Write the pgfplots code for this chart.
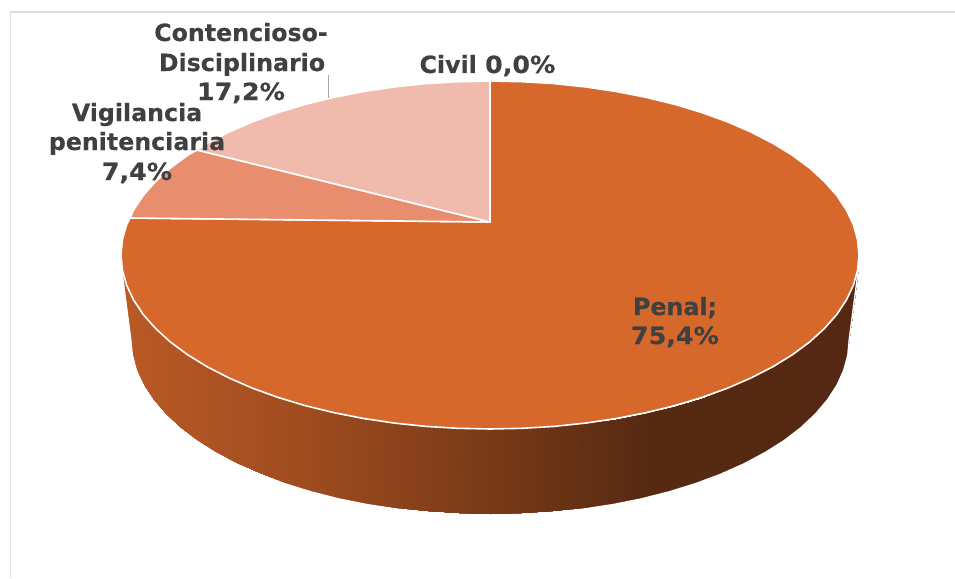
\documentclass[border=0pt]{standalone}
\usepackage{fontspec}
\setmainfont{DejaVu Sans}
\usepackage{pgfplots}
\pgfplotsset{compat=1.18}
\definecolor{penal}{RGB}{214,104,44}
\definecolor{vigil}{RGB}{233,141,111}
\definecolor{conten}{RGB}{240,186,173}
\definecolor{txt}{RGB}{64,64,64}
\definecolor{frameg}{RGB}{222,222,222}
\pgfplotsset{colormap={wall}{rgb255(0pt)=(186,90,38) rgb255(179pt)=(160,76,31) rgb255(369pt)=(120,58,24) rgb255(529pt)=(86,41,18) rgb255(738pt)=(84,40,18)}}
\newcommand{\lbl}[2]{\node[anchor=base,text=txt,inner sep=0pt,font=\fontsize{23.7}{29}\selectfont\bfseries\addfontfeature{FakeBold=0.3}] at (axis cs:#1) {#2};}
\newcommand{\widen}[1]{\scalebox{1.07}[1]{#1}}
\begin{document}
\begin{tikzpicture}
\useasboundingbox (0,0) rectangle (955pt,578pt);
\begin{axis}[
  scale only axis, width=955pt, height=578pt,
  xmin=0, xmax=955, ymin=0, ymax=578, y dir=reverse,
  hide axis, clip=true,
  colormap name=wall, point meta min=121, point meta max=859
]
% side wall of the pie
\addplot[surf, shader=interp, mesh/rows=2, mesh/cols=37, point meta=x] table[x=x,y=y] {
x y
859 255
857.6 270.2
853.4 285.2
846.4 300
836.8 314.5
824.4 328.5
809.6 342
792.3 354.8
772.7 366.8
750.9 378
727.2 388.3
701.7 397.5
674.5 405.7
645.9 412.7
616.2 418.5
585.5 423.1
554.1 426.4
522.2 428.3
490 429
457.8 428.3
425.9 426.4
394.5 423.1
363.8 418.5
334.1 412.7
305.5 405.7
278.3 397.5
252.8 388.3
229.1 378
207.3 366.8
187.7 354.8
170.4 342
155.6 328.5
143.2 314.5
133.6 300
126.6 285.2
122.4 270.2
121 255
848 340
846.6 355.2
842.6 370.2
835.8 385
826.4 399.5
814.5 413.5
800 427
783.3 439.8
764.2 451.8
743.1 463
720.1 473.3
695.3 482.5
669 490.7
641.3 497.7
612.4 503.5
582.7 508.1
552.1 511.4
521.2 513.3
490 514
458.8 513.3
427.9 511.4
397.3 508.1
367.6 503.5
338.7 497.7
311 490.7
284.7 482.5
259.9 473.3
236.9 463
215.8 451.8
196.7 439.8
180 427
165.5 413.5
153.6 399.5
144.2 385
137.4 370.2
133.4 355.2
132 340
};
% soft outer edge of the wall
\addplot[draw=white, line width=1.4pt, line join=round] coordinates {
(860.2,255) (849.2,340) (847.8,355.3) (843.7,370.4) (837,385.3) (827.5,399.9) (815.5,414) (801.1,427.6)
(784.3,440.5) (765.1,452.6) (744,463.9) (720.9,474.2) (696,483.5) (669.6,491.7) (641.8,498.8) (612.8,504.6)
(583,509.2) (552.4,512.5) (521.3,514.5) (490,515.2) (458.7,514.5) (427.6,512.5) (397,509.2) (367.2,504.6)
(338.2,498.8) (310.4,491.7) (284,483.5) (259.1,474.2) (236,463.9) (214.9,452.6) (195.7,440.5) (178.9,427.6)
(164.5,414) (152.5,399.9) (143,385.3) (136.3,370.4) (132.2,355.3) (130.8,340) (119.8,255)
};
% Penal 75,4%
\addplot[fill=penal, draw=white, line width=1.6pt, line join=round] coordinates {
(490,222) (490,81) (522.2,81.7) (554.1,83.6) (585.5,86.9) (616.2,91.5) (645.9,97.3) (674.5,104.3)
(701.7,112.5) (727.2,121.7) (750.9,132) (772.7,143.2) (792.3,155.2) (809.6,168) (824.4,181.5)
(836.8,195.5) (846.4,210) (853.4,224.8) (857.6,239.8) (859,255) (857.6,270.2) (853.4,285.2)
(846.4,300) (836.8,314.5) (824.4,328.5) (809.6,342) (792.3,354.8) (772.7,366.8) (750.9,378)
(727.2,388.3) (701.7,397.5) (674.5,405.7) (645.9,412.7) (616.2,418.5) (585.5,423.1) (554.1,426.4)
(522.2,428.3) (490,429) (457.8,428.3) (425.9,426.4) (394.5,423.1) (363.8,418.5) (334.1,412.7)
(305.5,405.7) (278.3,397.5) (252.8,388.3) (229.1,378) (207.3,366.8) (187.7,354.8) (170.4,342)
(155.6,328.5) (143.2,314.5) (133.6,300) (126.6,285.2) (122.4,270.2) (121,255) (122.4,239.8)
(126.6,224.8) (130,218) (490,222)
} -- cycle;
% Vigilancia penitenciaria 7,4%
\addplot[fill=vigil, draw=white, line width=1.6pt, line join=round] coordinates {
(490,222) (130,218) (133.6,210) (143.2,195.5) (155.6,181.5) (170.4,168) (187.7,155.2) (197,150) (490,222)
} -- cycle;
% Contencioso-Disciplinario 17,2%
\addplot[fill=conten, draw=white, line width=1.6pt, line join=round] coordinates {
(490,222) (197,150) (207.3,143.2) (229.1,132) (252.8,121.7) (278.3,112.5) (305.5,104.3) (334.1,97.3)
(363.8,91.5) (394.5,86.9) (425.9,83.6) (457.8,81.7) (490,81) (490,222)
} -- cycle;
% leader line
\addplot[draw={rgb,255:red,166;green,166;blue,166}, line width=1.2pt] coordinates {(328.5,75) (328.5,98)};
% chart frame
\addplot[draw=frameg, line width=1.5pt] coordinates {(10.5,578) (10.5,12) (955,12)};
\lbl{241,41}{Contencioso-}
\lbl{242,71}{Disciplinario}
\lbl{241,100}{\widen{17,2\%}}
\lbl{137,121}{Vigilancia}
\lbl{137,150}{penitenciaria}
\lbl{137,180}{\widen{7,4\%}}
\lbl{487.5,73}{Civil \widen{0,0\%}}
\lbl{675,315}{Penal;}
\lbl{675,344}{\widen{75,4\%}}
\end{axis}
\end{tikzpicture}
\end{document}
